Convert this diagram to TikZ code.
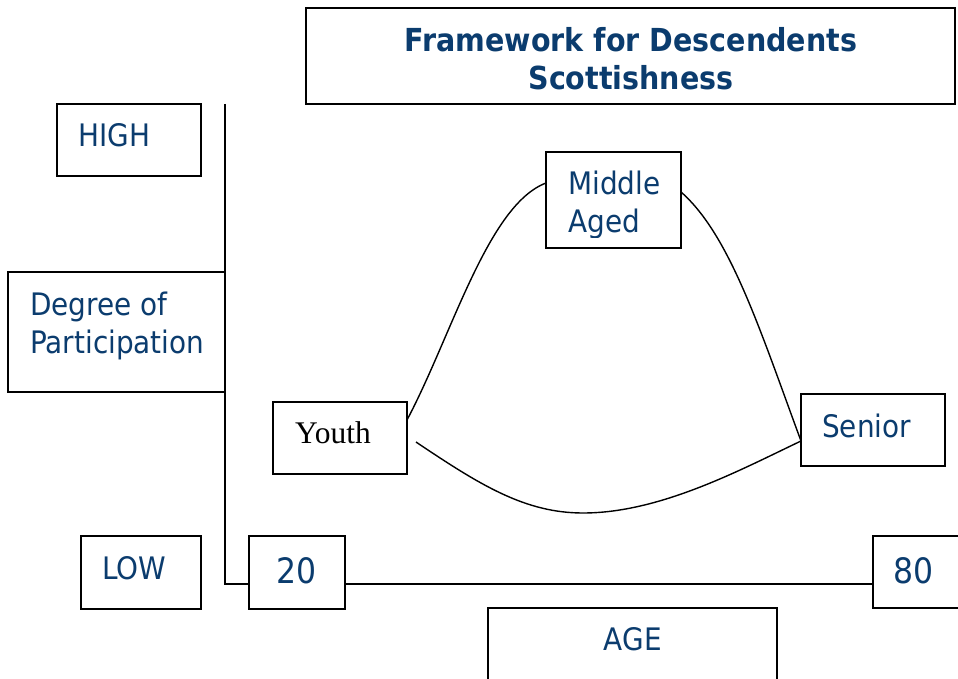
\documentclass[tikz,border=0pt]{standalone}
\usepackage{fontspec}
\setmainfont{DejaVu Sans}[FakeStretch=0.9]
\newfontfamily\timesf{Liberation Serif}
\definecolor{navy}{HTML}{0B3C6E}
\begin{document}
\begin{tikzpicture}[x=1pt,y=-1pt,
  box/.style={draw, line width=2pt, rectangle, inner sep=0pt, outer sep=0pt},
  lbl/.style={anchor=base west, inner sep=0pt, text=navy, font=\fontsize{31}{38}\selectfont, align=left},
  bignum/.style={font=\fontsize{35}{40}\selectfont},
  curve/.style={line width=1.4pt}]
\clip (0,0) rectangle (958,679);
\useasboundingbox (0,0) rectangle (958,679);
% boxes
\node[box, minimum width=649pt, minimum height=96pt] (title) at (630.5,56) {};
\node[box, minimum width=144pt, minimum height=72pt] (high) at (129,140) {};
\node[box, minimum width=217pt, minimum height=120pt] (degree) at (116.5,332) {};
\node[box, minimum width=134pt, minimum height=72pt] (youth) at (340,438) {};
\node[box, minimum width=120pt, minimum height=73pt] (low) at (141,572.5) {};
\node[box, minimum width=96pt, minimum height=73pt] (twenty) at (297,572.5) {};
\node[box, minimum width=102pt, minimum height=72pt] (eighty) at (924,572) {};
\node[box, minimum width=289pt, minimum height=92pt] (age) at (632.5,654) {};
\node[box, minimum width=144pt, minimum height=72pt] (senior) at (873,430) {};
\node[box, minimum width=135pt, minimum height=96pt] (middle) at (613.5,200) {};
% texts
\node[lbl, anchor=base, align=center, font=\bfseries\fontsize{31.7}{38}\selectfont] (titlet) at (631,90) {Framework for Descendents\\Scottishness};
\node[lbl] (hight) at (78,147) {HIGH};
\node[lbl] (degreet) at (30,353) {Degree of\\Participation};
\node[lbl, text=black, font=\timesf\fontsize{31.5}{38}\selectfont] (youtht) at (295,443) {Youth};
\node[lbl] (lowt) at (102,579) {LOW};
\node[lbl, bignum, anchor=base] (twentyt) at (297,583) {20};
\node[lbl, bignum] (eightyt) at (893,583) {80};
\node[lbl, anchor=base] (aget) at (632.7,650) {AGE};
\node[lbl] (seniort) at (822,437) {Senior};
\node[lbl] (middlet) at (568,195) {Middle};
\begin{scope}
\clip (540,150) rectangle (690,237);
\node[lbl] (agedt) at (568,233) {Aged};
\end{scope}
% axes
\coordinate (axtop) at (225,104);
\coordinate (axcorner) at (225,584);
\draw[line width=2pt] (axtop) -- (axcorner) -- (twenty.west |- axcorner);
\draw[line width=2pt] (twenty.east |- axcorner) -- (eighty.west |- axcorner);
% curves
\coordinate (c1s) at (407,420);
\coordinate (c1e) at (546,183);
\coordinate (c2s) at (681,192);
\coordinate (c2e) at (801,441);
\coordinate (c3s) at (416,442);
\coordinate (c3m) at (583,513);
\draw[curve] (c1s) .. controls (452,335) and (488,205) .. (c1e);
\draw[curve] (c2s) .. controls (730,235) and (760,330) .. (c2e);
\draw[curve] (c3s) .. controls (480,485) and (525,513) .. (c3m) .. controls (660,513) and (740,470) .. (c2e);
\end{tikzpicture}
\end{document}
